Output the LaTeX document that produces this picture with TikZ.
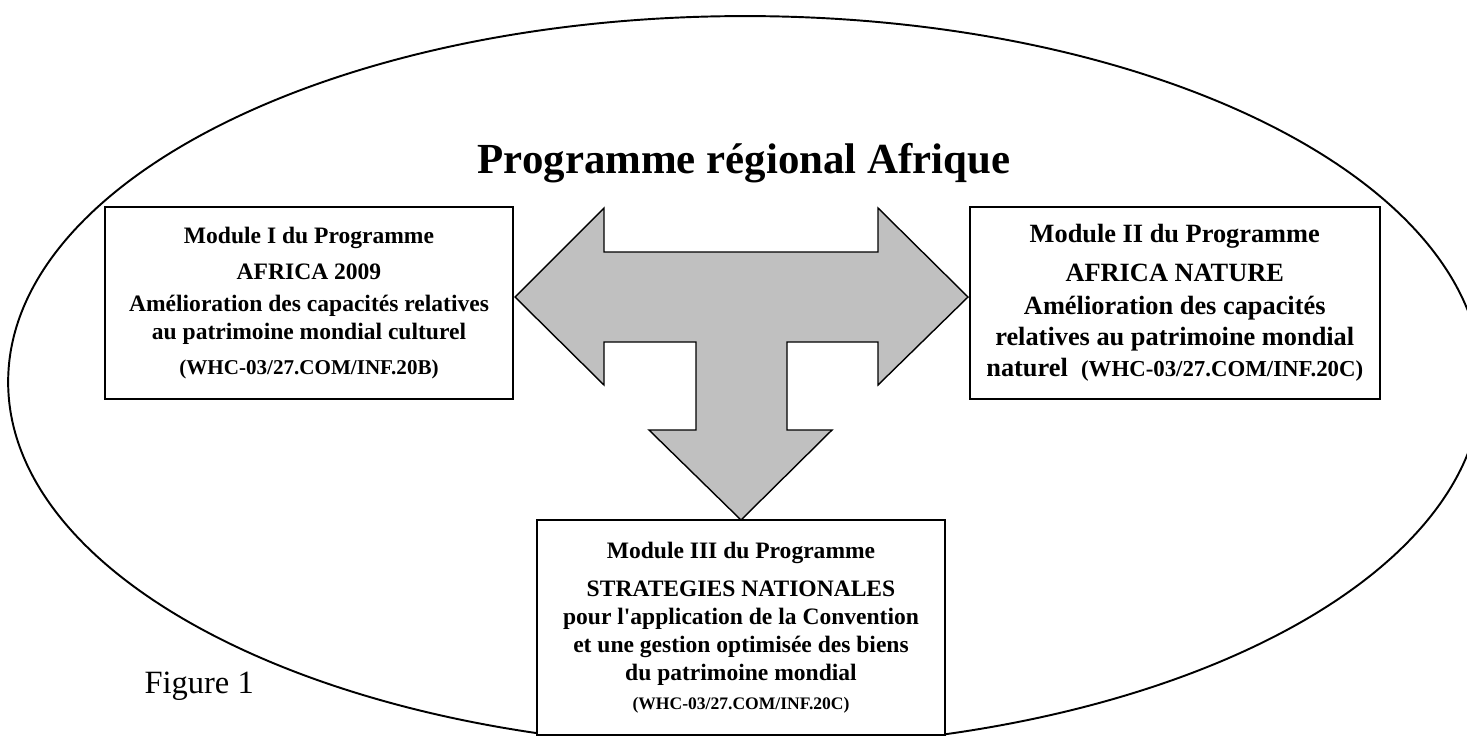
\documentclass[tikz,border=0pt]{standalone}
\usepackage{fontspec}
\setmainfont{Liberation Serif}
\usepackage{tikz}
\usetikzlibrary{positioning}
\definecolor{arrowgray}{RGB}{192,192,192}

\begin{document}
\begin{tikzpicture}[x=0.02cm, y=-0.02cm, thick,
	module node/.style={rectangle,draw,fill=white,line width=1.1pt,align=center,
		inner sep=0pt,font=\fontsize{13.4}{16}\selectfont\bfseries},
	big arrow/.style={draw,line width=0.8pt,fill=arrowgray,line join=miter}]
	\useasboundingbox (0,0) rectangle (1467,751);
	% outer ellipse, hidden under the lower box
	\begin{scope}
	\clip (0,0) -- (1467,0) -- (1467,751) -- (945,751) -- (945,735)
		-- (537,735) -- (537,751) -- (0,751) -- cycle;
	\draw[line width=1.1pt] (745,382) ellipse [x radius=14.74cm, y radius=7.32cm];
	\end{scope}
	\node[font=\fontsize{24.4}{29}\selectfont\bfseries, anchor=base] (0) at (744,173) {Programme régional Afrique};
	% the T shaped arrow
	\draw[big arrow] (515,297) -- (604,208) -- (604,252) -- (878,252) -- (878,208)
		-- (968,297) -- (878,385) -- (878,342) -- (787,342) -- (787,430) -- (832,430)
		-- (741,520) -- (649,430) -- (696,430) -- (696,342) -- (604,342) -- (604,385) -- cycle;
	\node[module node, minimum width=8.16cm, minimum height=3.84cm] (1) at (309,303)
		{Module I du Programme\\[4.4pt]
		AFRICA 2009\\[2pt]
		Amélioration des capacités relatives\\
		au patrimoine mondial culturel\\[3.8pt]
		{\fontsize{12}{16}\selectfont (WHC-03/27.COM/INF.20B)}};
	\node[module node, minimum width=8.2cm, minimum height=3.84cm,
		font=\fontsize{15}{17.8}\selectfont\bfseries] (2) [right=9.1cm of 1]
		{Module II du Programme\\[4pt]
		AFRICA NATURE\\[1pt]
		Amélioration des capacités\\
		relatives au patrimoine mondial\\
		naturel~ {\fontsize{13}{17.8}\selectfont (WHC-03/27.COM/INF.20C)}};
	\node[module node, minimum width=8.16cm, minimum height=4.3cm] (3) at (741,627.5)
		{Module III du Programme\\[5.5pt]
		STRATEGIES NATIONALES\\
		pour l\textquotesingle application de la Convention\\
		et une gestion optimisée des biens\\
		du patrimoine mondial\\[0.5pt]
		{\fontsize{10}{16}\selectfont (WHC-03/27.COM/INF.20C)}};
	\node[font=\fontsize{18.5}{22}\selectfont, anchor=base west] (4) at (138,693) {Figure 1};
\end{tikzpicture}
\end{document}
